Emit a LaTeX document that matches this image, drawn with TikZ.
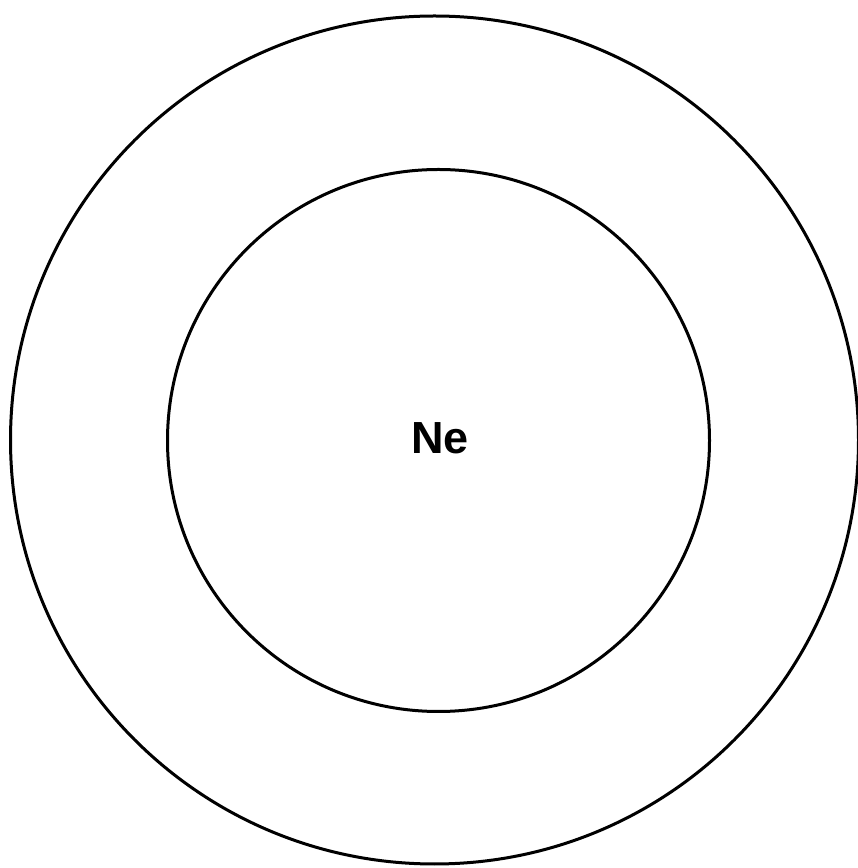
\documentclass[tikz,border=0pt]{standalone}
\usepackage{fontspec}
\setmainfont{Liberation Sans}
\usepackage{tikz}
\usetikzlibrary{positioning}
\definecolor{shellblack}{RGB}{0,0,0}

\begin{document}
\begin{tikzpicture}[
  x=1pt, y=1pt,
  shell/.style={draw=shellblack, circle, line width=3pt, inner sep=0pt},
  elem/.style={font=\fontsize{45}{45}\selectfont\bfseries, text=shellblack}
]
\useasboundingbox (0,0) rectangle (858,868);
\node[shell, minimum size=848pt] (outer) at (434.5,428) {};
\node[shell, minimum size=542pt] (inner) at (438.5,427.5) {};
\node[elem] (ne) at (440,430) {Ne};
\end{tikzpicture}
\end{document}
